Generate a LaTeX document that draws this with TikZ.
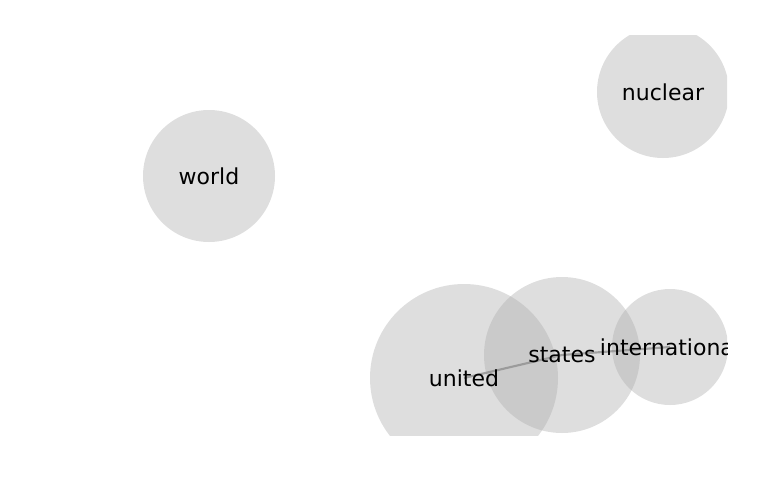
\documentclass[tikz,border=0pt]{standalone}
\usepackage{fontspec}
\setmainfont{DejaVu Sans}
\begin{document}
\begin{tikzpicture}[x=0.75pt,y=-0.75pt,
  bubble/.style={circle,inner sep=0pt,fill={rgb,255:red,172;green,172;blue,172},fill opacity=0.4,draw=none},
  word/.style={inner sep=0pt,font=\fontsize{16.5}{19}\selectfont,text=black},
  link/.style={draw={rgb,255:red,140;green,140;blue,140},line width=1.6pt,opacity=0.75}]
\useasboundingbox (0,0) rectangle (769,500);
\begin{scope}
\clip (40,35) rectangle (727,435);
\node[bubble,minimum size=132*0.75pt] (cworld) at (209,176) {};
\node[bubble,minimum size=132*0.75pt] (cnuclear) at (663,92) {};
\node[bubble,minimum size=188*0.75pt] (cunited) at (464,378) {};
\node[bubble,minimum size=156*0.75pt] (cstates) at (562,355) {};
\node[bubble,minimum size=116*0.75pt] (cinternational) at (670,347) {};
\draw[link] (cunited.center) -- (cstates.center);
\draw[link] (cstates.center) -- (cinternational.center);
\node[word] (lworld) at (cworld) {world};
\node[word] (lnuclear) at (cnuclear) {nuclear};
\node[word] (lunited) at (cunited) {united};
\node[word] (lstates) at (cstates) {states};
\node[word] (linternational) at (cinternational) {international};
\end{scope}
\end{tikzpicture}
\end{document}
